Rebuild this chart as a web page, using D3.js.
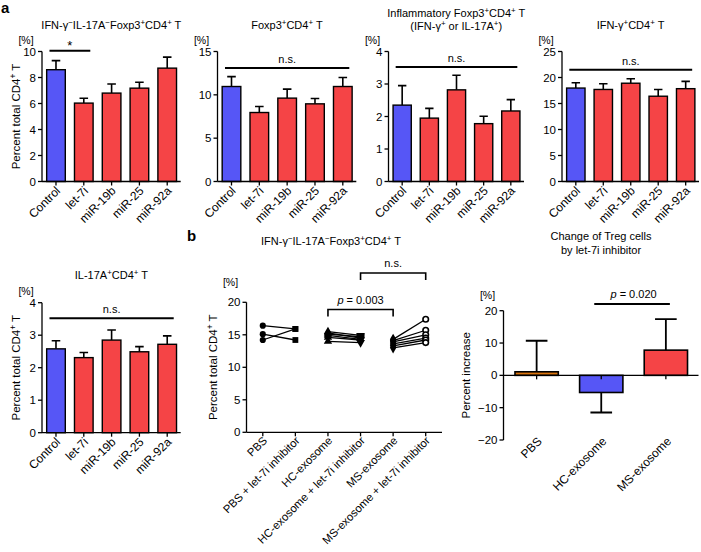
<!DOCTYPE html>
<html>
<head>
<meta charset="utf-8">
<script src="https://cdn.jsdelivr.net/npm/d3@7"></script>
<style>
  body { margin: 0; background: #fff; }
  svg { font-family: "Liberation Sans", Arial, sans-serif; }
</style>
</head>
<body>
<svg width="701" height="552"></svg>
<script>
// ---- data ----
var cats = ["Control", "let-7i", "miR-19b", "miR-25", "miR-92a"];

var tregMean = [8.6, 6.03, 6.8, 7.18, 8.72];
var tregSem  = [0.7, 0.37, 0.7, 0.46, 0.85];
var foxpMean = [10.96, 7.96, 9.62, 8.96, 10.96];
var foxpSem  = [1.14, 0.69, 1.04, 0.62, 1.04];
var inflMean = [2.35, 1.95, 2.82, 1.78, 2.17];
var inflSem  = [0.6, 0.3, 0.45, 0.23, 0.35];
var ifngMean = [17.97, 17.7, 18.9, 16.4, 17.85];
var ifngSem  = [1.03, 1.1, 0.85, 1.3, 1.4];
var il17Mean = [2.58, 2.31, 2.85, 2.49, 2.72];
var il17Sem  = [0.25, 0.16, 0.31, 0.16, 0.26];

var pairCats = ["PBS", "PBS + let-7i inhibitor", "HC-exosome", "HC-exosome + let-7i inhibitor", "MS-exosome", "MS-exosome + let-7i inhibitor"];
var pbs    = [16.4, 15.1, 14.2];
var pbsInh = [15.9, 14.2, 15.9];
var hc     = [15.5, 15.3, 15.1, 14.9, 14.6, 14.0];
var hcInh  = [14.9, 14.5, 14.7, 14.3, 14.2, 13.8];
var ms     = [14.3, 14.1, 13.9, 13.6, 13.3, 13.0];
var msInh  = [17.4, 15.7, 15.0, 14.5, 14.2, 13.8];

var chgCats = ["PBS", "HC-exosome", "MS-exosome"];
var chgMean = [1.1, -5.3, 7.8];
var chgSem  = [9.6, 6.2, 9.6];

var BLUE = "#5656f6", RED = "#f54446", ORANGE = "#d9730d";

var svg = d3.select("svg");

// text with ^x marking a superscript char
function rich(t, str) {
  var parts = str.split(/(\^.)/).filter(function(p) { return p !== ""; });
  var sup = false;
  parts.forEach(function(p) {
    if (p[0] === "^") {
      t.append("tspan").attr("dy", -4).attr("font-size", "0.72em").text(p[1]);
      sup = true;
    } else {
      var s = t.append("tspan").text(p);
      if (sup) s.attr("dy", 4);
      sup = false;
    }
  });
  return t;
}

function yAxisLeft(g, y, x0, ticks, fmt) {
  g.append("line").attr("x1", x0).attr("x2", x0)
    .attr("y1", y(y.domain()[0])).attr("y2", y(y.domain()[1]))
    .attr("stroke", "#000").attr("stroke-width", 1.3);
  ticks.forEach(function(v) {
    g.append("line").attr("x1", x0 - 4).attr("x2", x0).attr("y1", y(v)).attr("y2", y(v))
      .attr("stroke", "#000").attr("stroke-width", 1.3);
    g.append("text").attr("x", x0 - 6).attr("y", y(v) + 4).attr("text-anchor", "end")
      .attr("font-size", 11.5).text(fmt ? fmt(v) : v);
  });
}

function barPanel(cfg) {
  var g = svg.append("g");
  var x = d3.scaleBand().domain(cats).range([cfg.x0 + 0.5, cfg.x1]).paddingInner(0.33).paddingOuter(0.15);
  var y = d3.scaleLinear().domain([0, cfg.max]).range([cfg.yb, cfg.yb - 130]);
  var bw = x.bandwidth();

  // error bars (upper only)
  g.selectAll(".err").data(cats).enter().append("path")
    .attr("d", function(d, i) {
      var cx = x(d) + bw / 2, top = y(cfg.mean[i] + cfg.sem[i]);
      return "M" + cx + "," + y(cfg.mean[i]) + "V" + top + "M" + (cx - bw * 0.23) + "," + top + "H" + (cx + bw * 0.23);
    })
    .attr("stroke", "#000").attr("stroke-width", 1.6).attr("fill", "none");

  g.selectAll(".bar").data(cats).enter().append("rect")
    .attr("x", function(d) { return x(d); })
    .attr("y", function(d, i) { return y(cfg.mean[i]); })
    .attr("width", bw)
    .attr("height", function(d, i) { return y(0) - y(cfg.mean[i]); })
    .attr("fill", function(d, i) { return i === 0 ? BLUE : RED; })
    .attr("stroke", "#000").attr("stroke-width", 1.4);

  yAxisLeft(g, y, cfg.x0, cfg.ticks);
  // x axis
  g.append("line").attr("x1", cfg.x0).attr("x2", cfg.x1).attr("y1", y(0)).attr("y2", y(0))
    .attr("stroke", "#000").attr("stroke-width", 1.3);
  cats.forEach(function(d) {
    var cx = x(d) + bw / 2;
    g.append("line").attr("x1", cx).attr("x2", cx).attr("y1", y(0)).attr("y2", y(0) + 4)
      .attr("stroke", "#000").attr("stroke-width", 1.3);
    g.append("text").attr("text-anchor", "end").attr("font-size", 12)
      .attr("transform", "translate(" + (cx + 5) + "," + (y(0) + 10) + ") rotate(-45)")
      .text(d);
  });

  g.append("text").attr("x", cfg.x0 - 16).attr("y", y(cfg.max) - 8).attr("text-anchor", "middle")
    .attr("font-size", 10.5).text("[%]");

  cfg.title.forEach(function(s, k) {
    rich(g.append("text").attr("x", (cfg.x0 + cfg.x1) / 2).attr("y", cfg.titleY[k])
      .attr("text-anchor", "middle").attr("font-size", 11), s);
  });

  // significance
  var c0 = x(cats[cfg.sig.from]) + bw / 2, c1 = x(cats[cfg.sig.to]) + bw / 2;
  var sy = y(cfg.sig.at);
  g.append("line").attr("x1", c0 - 6.5).attr("x2", c1 + 6.5).attr("y1", sy).attr("y2", sy)
    .attr("stroke", "#000").attr("stroke-width", 2);
  g.append("text").attr("x", (c0 + c1) / 2).attr("y", sy - (cfg.sig.label === "*" ? 1 : 5))
    .attr("text-anchor", "middle").attr("font-size", cfg.sig.label === "*" ? 13 : 11)
    .text(cfg.sig.label);

  if (cfg.ylabel) {
    rich(g.append("text").attr("text-anchor", "middle").attr("font-size", 11.5)
      .attr("transform", "translate(" + (cfg.x0 - 22) + "," + (y(cfg.max / 2) + 0) + ") rotate(-90)"),
      "Percent total CD4^+ T");
  }
}

barPanel({ x0: 42, x1: 180.7, yb: 181.5, max: 10, ticks: [0, 2, 4, 6, 8, 10], mean: tregMean, sem: tregSem,
  title: ["IFN-γ^−IL-17A^−Foxp3^+CD4^+ T"], titleY: [29], sig: { from: 0, to: 1, at: 10.05, label: "*" }, ylabel: true });
barPanel({ x0: 217.5, x1: 356.3, yb: 181.5, max: 15, ticks: [0, 5, 10, 15], mean: foxpMean, sem: foxpSem,
  title: ["Foxp3^+CD4^+ T"], titleY: [29], sig: { from: 0, to: 4, at: 13.1, label: "n.s." } });
barPanel({ x0: 388.5, x1: 524, yb: 181.5, max: 4, ticks: [0, 1, 2, 3, 4], mean: inflMean, sem: inflSem,
  title: ["Inflammatory Foxp3^+CD4^+ T", "(IFN-γ^+ or IL-17A^+)"], titleY: [17, 29.5], sig: { from: 0, to: 4, at: 3.52, label: "n.s." } });
barPanel({ x0: 562, x1: 699, yb: 181.5, max: 25, ticks: [0, 5, 10, 15, 20, 25], mean: ifngMean, sem: ifngSem,
  title: ["IFN-γ^+CD4^+ T"], titleY: [29], sig: { from: 0, to: 4, at: 21.5, label: "n.s." } });
barPanel({ x0: 42, x1: 180.7, yb: 432.7, max: 4, ticks: [0, 1, 2, 3, 4], mean: il17Mean, sem: il17Sem,
  title: ["IL-17A^+CD4^+ T"], titleY: [279], sig: { from: 0, to: 4, at: 3.52, label: "n.s." }, ylabel: true });

// panel letters
svg.append("text").attr("x", 1).attr("y", 13).attr("font-size", 15).attr("font-weight", "bold").text("a");
svg.append("text").attr("x", 187).attr("y", 241).attr("font-size", 15).attr("font-weight", "bold").text("b");

// ---- b: paired plot ----
(function() {
  var g = svg.append("g");
  var x0 = 246.5, x1 = 442;
  var x = d3.scalePoint().domain(pairCats).range([x0, x1]).padding(0.5);
  var y = d3.scaleLinear().domain([0, 20]).range([432.3, 302.3]);

  yAxisLeft(g, y, x0, [0, 5, 10, 15, 20]);
  g.append("line").attr("x1", x0).attr("x2", x1).attr("y1", y(0)).attr("y2", y(0))
    .attr("stroke", "#000").attr("stroke-width", 1.3);
  pairCats.forEach(function(d) {
    g.append("line").attr("x1", x(d)).attr("x2", x(d)).attr("y1", y(0)).attr("y2", y(0) + 4)
      .attr("stroke", "#000").attr("stroke-width", 1.3);
    g.append("text").attr("text-anchor", "end").attr("font-size", 11.3)
      .attr("transform", "translate(" + (x(d) + 5) + "," + (y(0) + 9) + ") rotate(-45)")
      .text(d);
  });
  g.append("text").attr("x", x0 - 16).attr("y", y(20) - 16).attr("text-anchor", "middle")
    .attr("font-size", 10.5).text("[%]");
  rich(g.append("text").attr("text-anchor", "middle").attr("font-size", 11.5)
    .attr("transform", "translate(" + (x0 - 30) + "," + y(10) + ") rotate(-90)"), "Percent total CD4^+ T");
  rich(g.append("text").attr("x", 331).attr("y", 245).attr("text-anchor", "middle").attr("font-size", 11),
    "IFN-γ^−IL-17A^−Foxp3^+CD4^+ T");

  var groups = [
    [pbs, pbsInh, d3.symbolCircle, d3.symbolSquare, false],
    [hc, hcInh, d3.symbolTriangle, d3.symbolTriangle, false],
    [ms, msInh, d3.symbolDiamond, d3.symbolCircle, true]
  ];
  groups.forEach(function(gr, k) {
    var a = pairCats[k * 2], b = pairCats[k * 2 + 1];
    gr[0].forEach(function(v, i) {
      g.append("line").attr("x1", x(a)).attr("x2", x(b)).attr("y1", y(v)).attr("y2", y(gr[1][i]))
        .attr("stroke", "#000").attr("stroke-width", 1.3);
    });
    gr[0].forEach(function(v) {
      g.append("path").attr("d", d3.symbol().type(gr[2]).size(k === 2 ? 36 : 30)())
        .attr("transform", "translate(" + x(a) + "," + y(v) + ")").attr("fill", "#000");
    });
    gr[1].forEach(function(v) {
      g.append("path").attr("d", d3.symbol().type(gr[3]).size(gr[4] ? 24 : 34)())
        .attr("transform", "translate(" + x(b) + "," + y(v) + ")" + (k === 1 ? " rotate(180)" : ""))
        .attr("fill", gr[4] ? "#fff" : "#000").attr("stroke", "#000").attr("stroke-width", gr[4] ? 1.6 : 0);
    });
  });

  // brackets
  function bracket(ca, cb, top, label, italicP) {
    var xa = x(ca), xb = x(cb);
    g.append("path").attr("d", "M" + xa + "," + (top + 7) + "V" + top + "H" + xb + "V" + (top + 7))
      .attr("fill", "none").attr("stroke", "#000").attr("stroke-width", 1.6);
    var t = g.append("text").attr("x", (xa + xb) / 2).attr("y", top - 6).attr("text-anchor", "middle").attr("font-size", 11);
    if (italicP) {
      t.append("tspan").attr("font-style", "italic").text("p");
      t.append("tspan").text(" = " + label);
    } else t.text(label);
  }
  bracket(pairCats[2], pairCats[4], 309.5, "0.003", true);
  bracket(pairCats[3], pairCats[5], 273, "n.s.", false);
})();

// ---- b: change of Treg ----
(function() {
  var g = svg.append("g");
  var x0 = 503.5, x1 = 698.5;
  var x = d3.scaleBand().domain(chgCats).range([x0 + 0.5, x1]).paddingInner(0.33).paddingOuter(0.17);
  var y = d3.scaleLinear().domain([-20, 20]).range([440, 310.7]);
  var bw = x.bandwidth();
  var colors = [ORANGE, BLUE, RED];

  g.selectAll(".err").data(chgCats).enter().append("path")
    .attr("d", function(d, i) {
      var cx = x(d) + bw / 2, m = chgMean[i], e = m >= 0 ? m + chgSem[i] : m - chgSem[i];
      return "M" + cx + "," + y(m) + "V" + y(e) + "M" + (cx - bw * 0.25) + "," + y(e) + "H" + (cx + bw * 0.25);
    })
    .attr("stroke", "#000").attr("stroke-width", 1.8).attr("fill", "none");
  g.selectAll(".bar").data(chgCats).enter().append("rect")
    .attr("x", function(d) { return x(d); })
    .attr("y", function(d, i) { return y(Math.max(0, chgMean[i])); })
    .attr("width", bw)
    .attr("height", function(d, i) { return Math.abs(y(chgMean[i]) - y(0)); })
    .attr("fill", function(d, i) { return colors[i]; })
    .attr("stroke", "#000").attr("stroke-width", 1.6);

  yAxisLeft(g, y, x0, [-20, -10, 0, 10, 20], function(v) { return v < 0 ? "−" + (-v) : v; });
  g.append("line").attr("x1", x0).attr("x2", x1).attr("y1", y(0)).attr("y2", y(0))
    .attr("stroke", "#000").attr("stroke-width", 1.3);
  chgCats.forEach(function(d) {
    var cx = x(d) + bw / 2;
    g.append("line").attr("x1", cx).attr("x2", cx).attr("y1", y(0)).attr("y2", y(0) + 4)
      .attr("stroke", "#000").attr("stroke-width", 1.3);
    g.append("text").attr("text-anchor", "end").attr("font-size", 12)
      .attr("transform", "translate(" + (cx + 6) + "," + (y(-20) + 2) + ") rotate(-45)")
      .text(d);
  });
  g.append("text").attr("x", x0 - 16).attr("y", y(20) - 12).attr("text-anchor", "middle")
    .attr("font-size", 10.5).text("[%]");
  g.append("text").attr("text-anchor", "middle").attr("font-size", 11.5)
    .attr("transform", "translate(" + (x0 - 34) + "," + y(0) + ") rotate(-90)").text("Percent increase");
  g.append("text").attr("x", 601).attr("y", 240).attr("text-anchor", "middle").attr("font-size", 11).text("Change of Treg cells");
  g.append("text").attr("x", 601).attr("y", 254).attr("text-anchor", "middle").attr("font-size", 11).text("by let-7i inhibitor");

  var c0 = x(chgCats[1]) + bw / 2, c1 = x(chgCats[2]) + bw / 2;
  g.append("line").attr("x1", c0 - 7).attr("x2", c1 + 4).attr("y1", 304).attr("y2", 304)
    .attr("stroke", "#000").attr("stroke-width", 1.8);
  var t = g.append("text").attr("x", (c0 + c1) / 2).attr("y", 298).attr("text-anchor", "middle").attr("font-size", 11);
  t.append("tspan").attr("font-style", "italic").text("p");
  t.append("tspan").text(" = 0.020");
})();
</script>
</body>
</html>
